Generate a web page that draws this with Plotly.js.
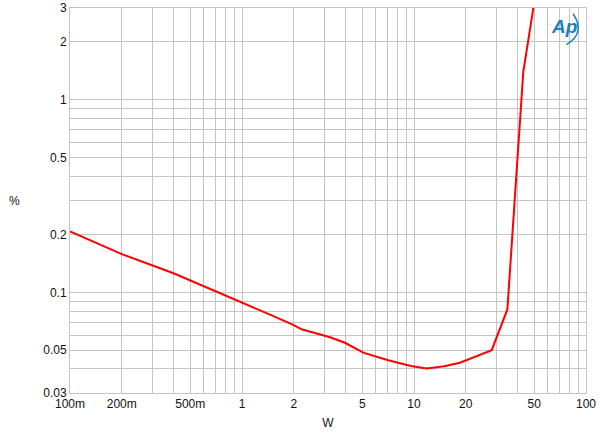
<!DOCTYPE html>
<html>
<head>
<meta charset="utf-8">
<script src="https://cdn.plot.ly/plotly-3.0.1.min.js"></script>
<style>html,body{margin:0;padding:0;background:#fff;}#chart{width:600px;height:436px;}</style>
</head>
<body>
<div id="chart"></div>
<script>
// Power (W) and THD+N (%)
const powerW = [0.1, 0.2, 0.4, 0.64, 0.85, 1.5, 2.0, 2.22, 3.25, 3.97, 5.07, 7.0, 9.6, 11.85, 15, 18.5, 28.3, 34.9, 43.2, 55];
const thdPct = [0.207, 0.158, 0.1256, 0.105, 0.0949, 0.0757, 0.0676, 0.0643, 0.0584, 0.0547, 0.0486, 0.0445, 0.0414, 0.0402, 0.0413, 0.0431, 0.0501, 0.0815, 1.40, 5.5];

const xGridVals = [0.1,0.2,0.3,0.4,0.5,0.6,0.7,0.8,0.9,1,2,3,4,5,6,7,8,9,10,20,30,40,50,60,70,80,90,100];
const xLabelMap = {0.1:'100m',0.2:'200m',0.5:'500m',1:'1',2:'2',5:'5',10:'10',20:'20',50:'50',100:'100'};
const yGridVals = [0.03,0.04,0.05,0.06,0.07,0.08,0.09,0.1,0.2,0.3,0.4,0.5,0.6,0.7,0.8,0.9,1,2,3];
const yLabelMap = {0.03:'0.03',0.05:'0.05',0.1:'0.1',0.2:'0.2',0.5:'0.5',1:'1',2:'2',3:'3'};

const xText = xGridVals.map(v => xLabelMap[v] || '');
const yText = yGridVals.map(v => yLabelMap[v] || '');

const font = {family: 'Liberation Sans, Arial, sans-serif', size: 12, color: '#111'};

const trace = {
  x: powerW, y: thdPct, type: 'scatter', mode: 'lines',
  line: {color: '#ff0000', width: 2}, hoverinfo: 'skip'
};

const layout = {
  width: 600, height: 436,
  margin: {l: 70, r: 14, t: 8, b: 43},
  paper_bgcolor: '#fff', plot_bgcolor: '#fff',
  font: font,
  showlegend: false,
  xaxis: {
    type: 'log', range: [-1, 2],
    tickmode: 'array', tickvals: xGridVals, ticktext: xText,
    showgrid: true, gridcolor: '#c4c4c4', gridwidth: 1,
    showline: true, linecolor: '#c4c4c4', mirror: true,
    ticks: '', zeroline: false, tickfont: font,
    title: {text: 'W', font: font, standoff: 8}
  },
  yaxis: {
    type: 'log', range: [Math.log10(0.03), Math.log10(3)],
    tickmode: 'array', tickvals: yGridVals, ticktext: yText,
    showgrid: true, gridcolor: '#c4c4c4', gridwidth: 1,
    showline: true, linecolor: '#c4c4c4', mirror: true,
    ticks: '', zeroline: false, tickfont: font
  },
  annotations: [
    {text: '%', xref: 'paper', yref: 'paper', x: -0.108, y: 0.5, showarrow: false,
     font: font, xanchor: 'center', yanchor: 'middle'},
    {text: '<i><b>Ap</b></i>', xref: 'paper', yref: 'paper', x: 0.957, y: 0.985, showarrow: false,
     font: {family: 'Liberation Sans, Arial, sans-serif', size: 19, color: '#1b7fc4'},
     xanchor: 'center', yanchor: 'top'}
  ],
  shapes: [
    {type: 'path', xref: 'paper', yref: 'paper',
     path: 'M 0.962,0.905 Q 1.0,0.935 0.975,0.985',
     line: {color: '#1b7fc4', width: 1.5}}
  ]
};

Plotly.newPlot('chart', [trace], layout, {staticPlot: true, displayModeBar: false});
</script>
</body>
</html>
